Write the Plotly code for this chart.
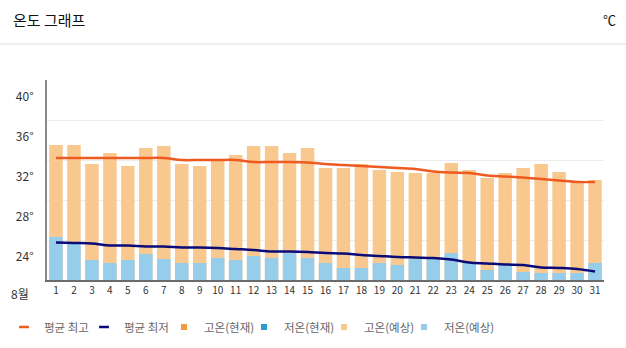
import plotly.graph_objects as go

days = list(range(1, 32))
day_labels = [str(d) for d in days]
high_fc = [33.5, 33.5, 31.6, 32.7, 31.4, 33.2, 33.4, 31.6, 31.4, 31.9,
           32.5, 33.4, 33.4, 32.7, 33.2, 31.2, 31.2, 31.6, 31.0, 30.8,
           30.7, 30.7, 31.7, 31.0, 30.2, 30.7, 31.2, 31.6, 30.8, 29.7, 30.0]
low_fc = [24.3, 23.7, 22.0, 21.7, 22.0, 22.6, 22.1, 21.7, 21.7, 22.2,
          22.0, 22.4, 22.2, 22.7, 22.2, 21.7, 21.2, 21.2, 21.7, 21.5,
          22.1, 22.1, 22.7, 21.8, 21.0, 21.5, 20.8, 20.7, 20.7, 20.7, 21.7]
avg_high = [32.2, 32.2, 32.2, 32.2, 32.2, 32.2, 32.2, 32.0, 32.0, 32.0,
            32.0, 31.8, 31.8, 31.8, 31.75, 31.6, 31.5, 31.4, 31.3, 31.2,
            31.1, 30.85, 30.75, 30.7, 30.45, 30.35, 30.25, 30.1, 29.95, 29.8, 29.8]
avg_low = [23.75, 23.7, 23.65, 23.45, 23.45, 23.35, 23.35, 23.25, 23.25, 23.2,
           23.1, 23.0, 22.85, 22.85, 22.8, 22.7, 22.65, 22.5, 22.4, 22.3,
           22.25, 22.2, 22.05, 21.75, 21.65, 21.55, 21.5, 21.25, 21.2, 21.1, 20.85]
y_ticks = [24, 28, 32, 36, 40]
y_tick_text = ["24°", "28°", "32°", "36°", "40°"]

c_avg_high = "#ee5a20"
c_avg_low = "#0a0a78"
c_high_now = "#f39a3e"
c_low_now = "#2f9bcc"
c_high_fc = "#f8c88f"
c_low_fc = "#95cdea"

FONT = "Noto Sans CJK KR"

fig = go.Figure()
fig.add_trace(go.Bar(x=days, y=high_fc, marker_color=c_high_fc, marker_line_width=0,
                     showlegend=False, name="고온(예상)"))
fig.add_trace(go.Bar(x=days, y=low_fc, marker_color=c_low_fc, marker_line_width=0,
                     showlegend=False, name="저온(예상)"))
fig.add_trace(go.Scatter(x=days, y=avg_high, mode="lines", line=dict(color=c_avg_high, width=2.5, shape="spline"),
                         showlegend=False, name="평균 최고"))
fig.add_trace(go.Scatter(x=days, y=avg_low, mode="lines", line=dict(color=c_avg_low, width=2.5, shape="spline"),
                         showlegend=False, name="평균 최저"))

# legend entries
legend_items = [
    ("평균 최고", "line-ew", c_avg_high),
    ("평균 최저", "line-ew", c_avg_low),
    ("고온(현재)", "square", c_high_now),
    ("저온(현재)", "square", c_low_now),
    ("고온(예상)", "square", c_high_fc),
    ("저온(예상)", "square", c_low_fc),
]
for name, sym, col in legend_items:
    if sym == "line-ew":
        mk = dict(symbol=sym, size=7, line=dict(color=col, width=2.5), color=col)
    else:
        mk = dict(symbol=sym, size=6, color=col, line=dict(width=0))
    fig.add_trace(go.Scatter(x=[None], y=[None], mode="markers", marker=mk, name=name, showlegend=True))
# invisible spacer so the last legend label is not clipped
fig.add_trace(go.Scatter(x=[None], y=[None], mode="markers",
                         marker=dict(color="rgba(0,0,0,0)", size=1, line=dict(width=0, color="rgba(0,0,0,0)")),
                         name=" ", showlegend=True, hoverinfo="skip"))

fig.update_layout(
    width=626, height=348,
    margin=dict(l=47, r=22, t=80, b=68),
    paper_bgcolor="white", plot_bgcolor="white",
    barmode="overlay", bargap=0.25,
    font=dict(family=FONT, color="#333"),
    legend=dict(orientation="h", xref="container", yref="container", x=4/626, y=0.06,
                xanchor="left", yanchor="middle", entrywidth=35,
                font=dict(size=11.5, color="#666", family=FONT), itemclick=False,
                bgcolor="rgba(0,0,0,0)"),
    xaxis=dict(range=[0.5, 31.5], tickmode="array", tickvals=days, ticktext=day_labels,
               tickfont=dict(size=10, color="#333", family=FONT), showgrid=False,
               showline=True, linecolor="#6b6b6b", linewidth=2, ticks="", zeroline=False),
    yaxis=dict(range=[20, 40], tickmode="array", tickvals=y_ticks, ticktext=y_tick_text,
               ticklabelshift=17, ticklabelstandoff=9,
               tickfont=dict(size=12, color="#333", family=FONT),
               showgrid=True, gridcolor="#ececec", gridwidth=1,
               showline=True, linecolor="#888888", linewidth=2, ticks="", zeroline=False),
    shapes=[dict(type="line", xref="paper", yref="paper", x0=-47/557, x1=1+22/557,
                 y0=1+36/200, y1=1+36/200, line=dict(color="#dddddd", width=1))],
    annotations=[
        dict(text="온도 그래프", xref="paper", yref="paper", x=-36/557, y=1+60/200,
             xanchor="left", yanchor="middle", showarrow=False,
             font=dict(size=15, color="#111", family=FONT)),
        dict(text="℃", xref="paper", yref="paper", x=1+14/557, y=1+60/200,
             xanchor="right", yanchor="middle", showarrow=False,
             font=dict(size=13, color="#111", family=FONT)),
        dict(text="8월", xref="paper", yref="paper", x=-27/557, y=-13/200,
             xanchor="center", yanchor="middle", showarrow=False,
             font=dict(size=12, color="#333", family=FONT)),
    ],
)

fig.write_html("out.html")
